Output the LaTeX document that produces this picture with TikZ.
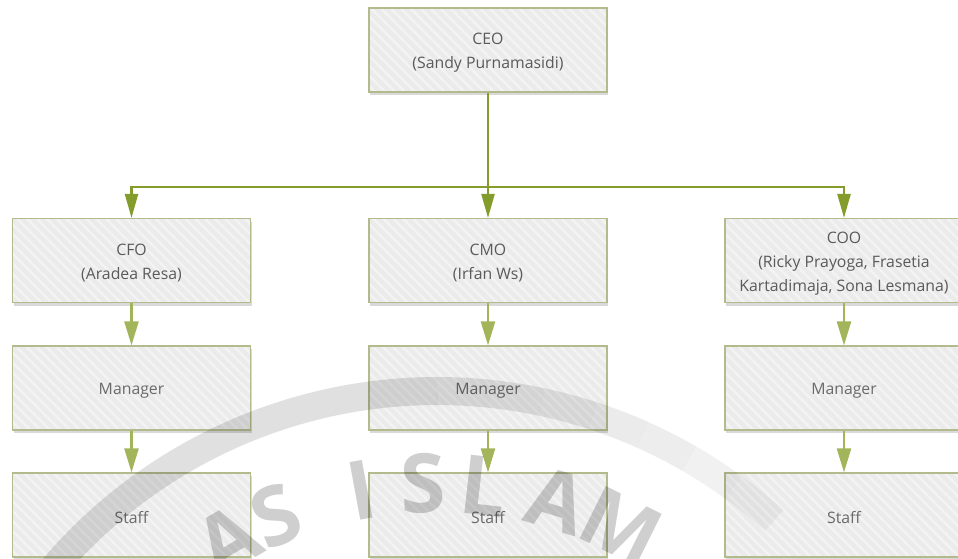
\documentclass[tikz,border=0pt]{standalone}
\usepackage{fontspec}
\setmainfont{Open Sans}
\usetikzlibrary{arrows.meta,shadows,patterns.meta,calc}

\definecolor{busgreen}{HTML}{839C2B}
\definecolor{subgreen}{HTML}{A2B55A}
\definecolor{boxline}{HTML}{B3BA8C}
\definecolor{boxfill}{HTML}{EBEBEB}
\definecolor{stripe}{HTML}{F3F3F3}
\definecolor{txt}{HTML}{5A5A5A}
\definecolor{txtlight}{HTML}{6A6A6A}

\tikzset{
  orgbox/.style={draw=boxline, line width=1.2pt,
    drop shadow={shadow xshift=1pt, shadow yshift=-3pt, opacity=0.15, fill=black},
    preaction={fill=boxfill},
    pattern={Lines[angle=-45,distance=7pt,line width=2.5pt]}, pattern color=stripe,
    minimum width=238pt, minimum height=84pt, inner sep=0pt},
  boxtext/.style={align=center, text=txt, inner sep=0pt, yshift=-3pt,
    font=\fontsize{15.8}{24}\selectfont},
  lowtext/.style={boxtext, text=txtlight},
  busline/.style={draw=busgreen, line width=2.4pt},
  busarrow/.style={busline, -{Triangle[length=24pt,width=13pt]}},
  subarrow/.style={draw=subgreen, line width=2.4pt, -{Triangle[length=24pt,width=14pt]}},
  wmletter/.style={text=black, opacity=0.19, font=\fontsize{82}{82}\selectfont\bfseries, inner sep=0pt},
  wmband/.style={black, line width=28pt},
}

\begin{document}
\begin{tikzpicture}[x=1pt,y=-1pt]
\useasboundingbox (0,0) rectangle (958,558);
\clip (0,0) rectangle (958,558);

\node[orgbox, label={[boxtext]center:{CEO\\(Sandy Purnamasidi)}}] (ceo) at (488,50) {};
\node[orgbox, label={[boxtext]center:{CFO\\(Aradea Resa)}}] (cfo) at (131.5,260.5) {};
\node[orgbox, label={[boxtext]center:{CMO\\(Irfan Ws)}}] (cmo) at (488,260.5) {};
\node[orgbox, label={[boxtext]center:{COO\\(Ricky Prayoga, Frasetia\\Kartadimaja, Sona Lesmana)}}] (coo) at (844,260.5) {};

\node[orgbox, label={[lowtext]center:Manager}] (m1) at (131.5,388) {};
\node[orgbox, label={[lowtext]center:Manager}] (m2) at (488,388) {};
\node[orgbox, label={[lowtext]center:Manager}] (m3) at (844,388) {};

\node[orgbox, label={[lowtext]center:Staff}] (s1) at (131.5,515) {};
\node[orgbox, label={[lowtext]center:Staff}] (s2) at (488,515) {};
\node[orgbox, label={[lowtext]center:Staff}] (s3) at (844,515) {};

\coordinate (bus) at (488,187);
\draw[busarrow] (ceo.south) -- (cmo.north);
\draw[busarrow] (bus) -| (cfo.north);
\draw[busarrow] (bus) -| (coo.north);

\draw[subarrow] (cfo.south) -- (m1.north);
\draw[subarrow] (cmo.south) -- (m2.north);
\draw[subarrow] (coo.south) -- (m3.north);
\draw[subarrow] (m1.south) -- (s1.north);
\draw[subarrow] (m2.south) -- (s2.north);
\draw[subarrow] (m3.south) -- (s3.north);

% watermark
\coordinate (wc) at (437,895);
\draw[wmband, opacity=0.12] ($(wc)+(150:504pt)$) arc[start angle=150, end angle=90, radius=504pt];
\foreach \a/\op in {90/0.11,84/0.10,78/0.09,72/0.08,66/0.07,60/0.055,54/0.04}{
  \draw[wmband, opacity=\op] ($(wc)+(\a:504pt)$) arc[start angle=\a, end angle=\a-6, radius=504pt];
}
\foreach \ang/\ch [count=\i] in {120.5/A,113/S,100.5/I,92/S,83.5/L,73/A,63.5/M}{
  \node[wmletter, rotate=\ang-90] (wm\i) at ($(wc)+(\ang:412pt)$) {\ch};
}
\end{tikzpicture}
\end{document}
